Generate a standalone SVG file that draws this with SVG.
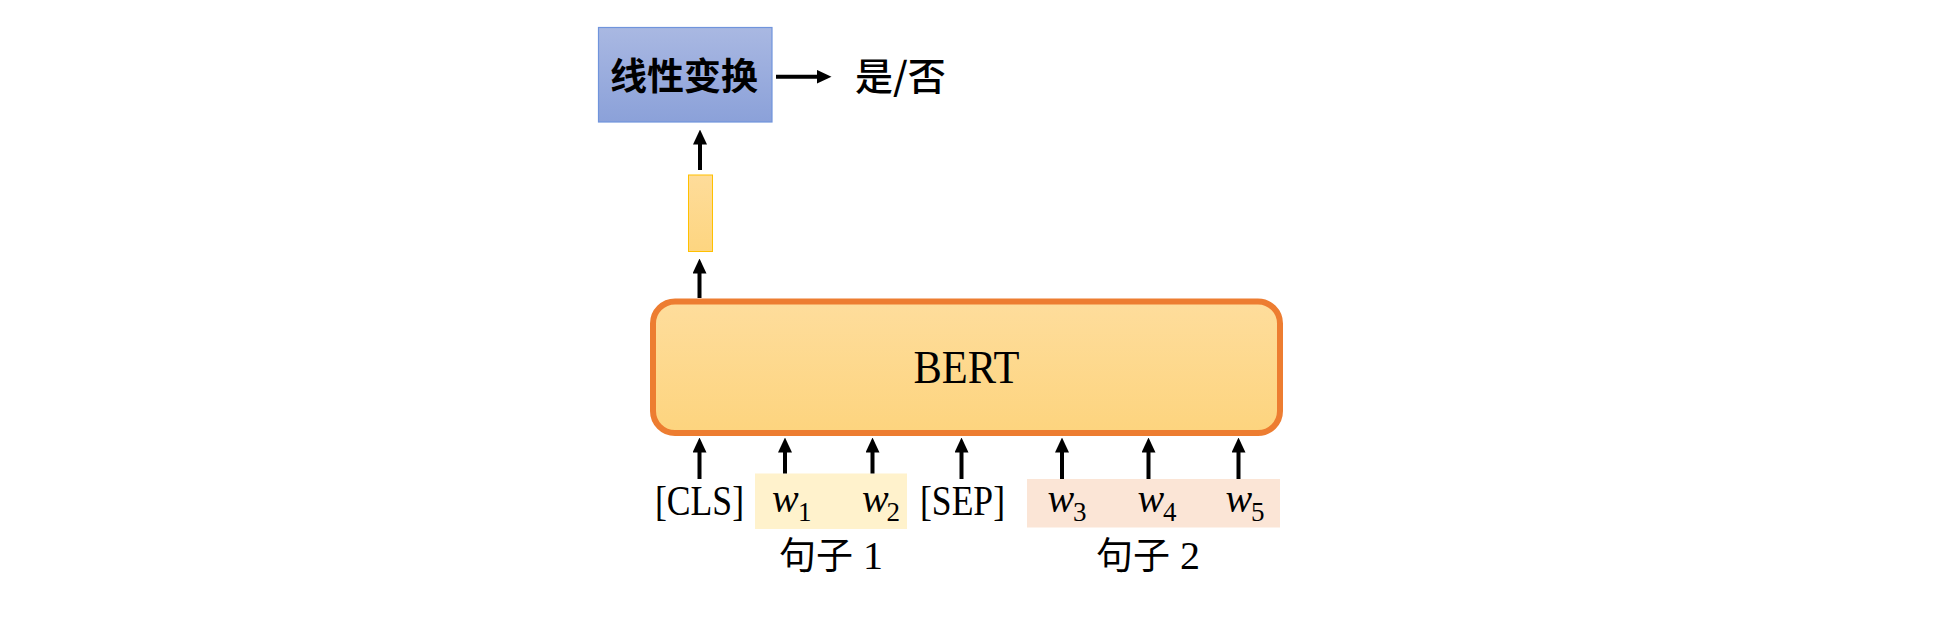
<svg xmlns="http://www.w3.org/2000/svg" width="1944" height="621" viewBox="0 0 1944 621">
<defs>
<linearGradient id="gBlue" x1="0" y1="0" x2="0" y2="1">
<stop offset="0" stop-color="#A9B8E2"/>
<stop offset="1" stop-color="#8BA1D9"/>
</linearGradient>
<linearGradient id="gBert" x1="0" y1="0" x2="0" y2="1">
<stop offset="0" stop-color="#FEDD9C"/>
<stop offset="1" stop-color="#FDD47E"/>
</linearGradient>
<linearGradient id="gVec" x1="0" y1="0" x2="0" y2="1">
<stop offset="0" stop-color="#FEDC9A"/>
<stop offset="1" stop-color="#FDD580"/>
</linearGradient>
<marker id="ah" markerUnits="userSpaceOnUse" markerWidth="15" markerHeight="14" viewBox="0 0 15 14" refX="0.5" refY="7" orient="auto">
<path d="M0,0 L15,7 L0,14 z" fill="#000"/>
</marker>
<style>
.arr{stroke:#000;stroke-width:4;fill:none;marker-end:url(#ah)}
.ser{font-family:"Liberation Serif","Times New Roman",serif;fill:#000}
.cjk{font-family:"Noto Sans CJK SC",sans-serif;fill:#000}
.w{font-family:"Liberation Serif","Times New Roman",serif;font-style:italic;font-size:40px;fill:#000}
.sub{font-family:"Liberation Serif","Times New Roman",serif;font-size:27px;fill:#000}
</style>
</defs>
<rect width="1944" height="621" fill="#fff"/>

<g id="linear">
<rect x="598.5" y="27.5" width="173.5" height="94.5" fill="url(#gBlue)" stroke="#7094DC" stroke-width="1.2"/>
<text class="cjk" x="684" y="90" font-size="37" font-weight="700" text-anchor="middle">线性变换</text>
</g>

<g id="output">
<text class="cjk" x="855" y="90" font-size="38" font-weight="500">是/否</text>
</g>

<g id="cls-vector">
<rect x="688.5" y="175" width="24" height="76.5" fill="url(#gVec)" stroke="#FFC000" stroke-width="1"/>
</g>

<g id="bert">
<rect x="653" y="301.5" width="627" height="131.5" rx="22" ry="22" fill="url(#gBert)" stroke="#ED7D31" stroke-width="6"/>
<text class="ser" x="966.5" y="382.5" font-size="46" text-anchor="middle" textLength="106" lengthAdjust="spacingAndGlyphs">BERT</text>
</g>

<g id="sentence1">
<rect x="755" y="473.5" width="152" height="55.5" fill="#FFF2CC"/>
<text x="772" y="512"><tspan class="w">w</tspan></text>
<text class="sub" x="798" y="521">1</text>
<text x="862" y="512"><tspan class="w">w</tspan></text>
<text class="sub" x="886.5" y="521">2</text>
</g>

<g id="sentence2">
<rect x="1027" y="479" width="253" height="48.5" fill="#FBE5D6"/>
<text x="1047.5" y="512"><tspan class="w">w</tspan></text>
<text class="sub" x="1073" y="521">3</text>
<text x="1137.5" y="512"><tspan class="w">w</tspan></text>
<text class="sub" x="1163" y="521">4</text>
<text x="1225.5" y="512"><tspan class="w">w</tspan></text>
<text class="sub" x="1251" y="521">5</text>
</g>

<g id="cls-token">
<text class="ser" x="655" y="515" font-size="43" textLength="89" lengthAdjust="spacingAndGlyphs">[CLS]</text>
</g>

<g id="sep-token">
<text class="ser" x="920" y="515" font-size="43" textLength="85" lengthAdjust="spacingAndGlyphs">[SEP]</text>
</g>

<g id="label1">
<text x="779" y="569"><tspan class="cjk" font-size="37">句子</tspan><tspan class="ser" font-size="40"> 1</tspan></text>
</g>

<g id="label2">
<text x="1096" y="569"><tspan class="cjk" font-size="37">句子</tspan><tspan class="ser" font-size="40"> 2</tspan></text>
</g>

<g id="connectors">
<line class="arr" x1="776" y1="76.7" x2="817" y2="76.7"/>
<line class="arr" x1="700" y1="170" x2="700" y2="144"/>
<line class="arr" x1="699.5" y1="298" x2="699.5" y2="273"/>
<line class="arr" x1="699.5" y1="479" x2="699.5" y2="452"/>
<line class="arr" x1="785" y1="473.5" x2="785" y2="452"/>
<line class="arr" x1="872.5" y1="473.5" x2="872.5" y2="452"/>
<line class="arr" x1="961.5" y1="479" x2="961.5" y2="452"/>
<line class="arr" x1="1062" y1="479" x2="1062" y2="452"/>
<line class="arr" x1="1148.5" y1="479" x2="1148.5" y2="452"/>
<line class="arr" x1="1238.5" y1="479" x2="1238.5" y2="452"/>
</g>
</svg>
